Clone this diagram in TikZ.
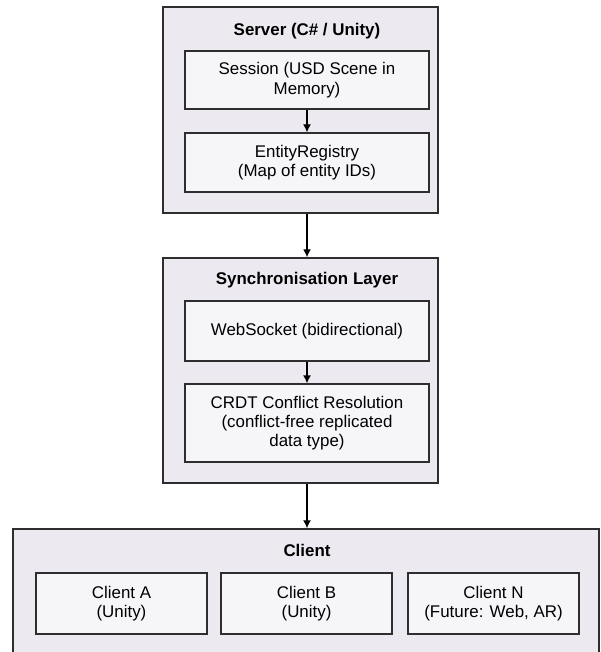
\documentclass[tikz,border=0pt]{standalone}
\usepackage{fontspec}
\setmainfont{Liberation Sans}
\usetikzlibrary{arrows.meta}
\definecolor{outerfill}{HTML}{ECEAF0}
\definecolor{innerfill}{HTML}{F6F5F8}
\definecolor{edge}{HTML}{2E2E2E}
\begin{document}
\begin{tikzpicture}[x=1pt,y=-1pt,
  container/.style={draw=edge,fill=outerfill,line width=1.5pt,minimum width=275pt,inner sep=0pt},
  inner/.style={draw=edge,fill=innerfill,line width=1.3pt,minimum width=244pt,inner sep=0pt,align=center,font=\fontsize{16.9}{19.3}\selectfont},
  clientbox/.style={inner,minimum width=171pt,minimum height=61pt},
  title/.style={font=\fontsize{16.9}{19.3}\selectfont\bfseries,inner sep=0pt},
  flow/.style={draw=black,line width=1.3pt,-{Latex[length=8pt,width=8pt]}}]
\useasboundingbox (0,0) rectangle (600,652);
\clip (0,0) rectangle (600,652);
% Server
\node[container,minimum height=206pt] (server) at (300.5,110) {};
\node[title] (servertitle) at (307,31) {Server (C\# / Unity)};
\node[inner,minimum height=58pt] (session) at (307,80) {Session (USD Scene in\\Memory)};
\node[inner,minimum height=59pt] (entity) at (307,162.5) {EntityRegistry\\(Map of entity IDs)};
% Sync
\node[container,minimum height=225pt] (sync) at (300.5,370.5) {};
\node[title] (synctitle) at (307,280) {Synchronisation Layer};
\node[inner,minimum height=60pt] (websocket) at (307,331) {WebSocket (bidirectional)};
\node[inner,minimum height=78pt] (crdt) at (307,423) {CRDT Conflict Resolution\\(conflict-free replicated\\data type)};
% Client
\node[container,minimum width=586pt,minimum height=171pt] (client) at (306,614.5) {};
\node[title] (clienttitle) at (307,550) {Client};
\node[clientbox] (clienta) at (121.5,603.5) {Client A\\(Unity)};
\node[clientbox] (clientb) at (306.5,603.5) {Client B\\(Unity)};
\node[clientbox] (clientn) at (493.5,603.5) {Client N\\(Future: Web, AR)};
% Arrows
\draw[flow] (session) -- (entity);
\draw[flow] (websocket) -- (crdt);
\draw[flow] (server.south -| entity) -- (sync.north -| entity);
\draw[flow] (sync.south -| crdt) -- (client.north -| crdt);
\end{tikzpicture}
\end{document}
